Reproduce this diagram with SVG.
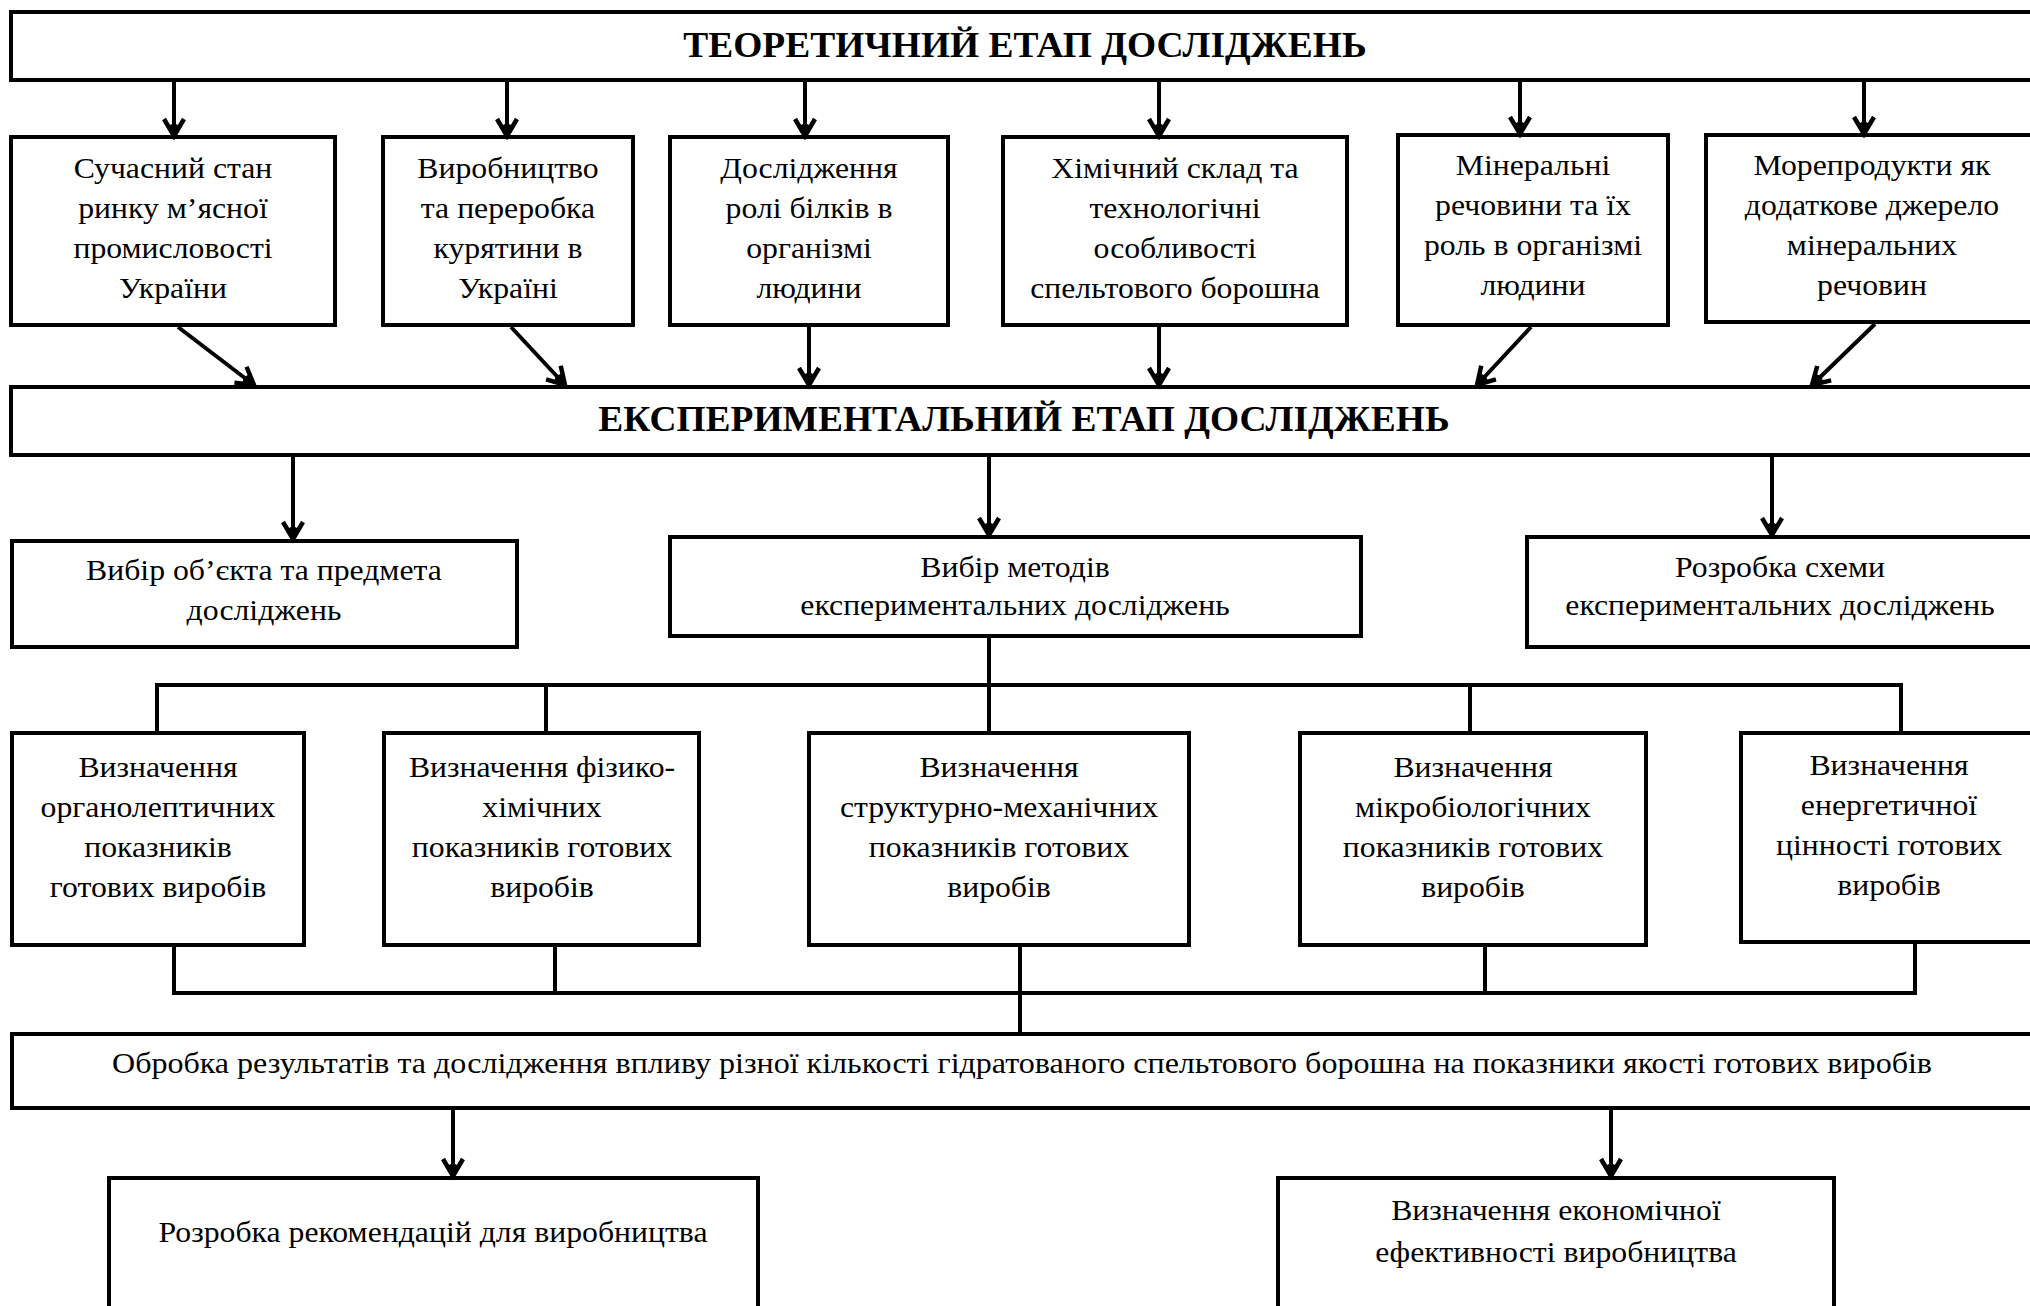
<svg xmlns="http://www.w3.org/2000/svg" width="2030" height="1306" viewBox="0 0 2030 1306">
<style>
.box{fill:#fff;stroke:#000;stroke-width:4}
.t{font-family:"Liberation Serif","Times New Roman",serif;font-size:29px;fill:#000;text-anchor:middle;transform-box:fill-box;transform-origin:center;transform:scaleX(1.095)}
.w{transform:scaleX(1.105)}
.h{font-family:"Liberation Serif","Times New Roman",serif;font-size:35px;font-weight:bold;fill:#000;text-anchor:middle;transform-box:fill-box;transform-origin:center;transform:scaleX(1.07)}
.c{fill:none;stroke:#000;stroke-width:4}
.a{fill:none;stroke:#000;stroke-width:4;marker-end:url(#ah)}
</style>
<defs>
<marker id="ah" markerUnits="userSpaceOnUse" markerWidth="24" markerHeight="26" refX="19" refY="12" orient="auto">
<path d="M2,2 L19,12 L2,22" fill="none" stroke="#000" stroke-width="4.5"/>
<path d="M6,12 L19,12 L9,6 z M6,12 L19,12 L9,18 z" fill="#000"/>
</marker>
</defs>
<rect width="2030" height="1306" fill="#fff"/>

<g id="theory">
<rect class="box" x="11" y="12" width="2040" height="68"/>
<text class="h" x="1025" y="57">ТЕОРЕТИЧНИЙ ЕТАП ДОСЛІДЖЕНЬ</text>
</g>

<g id="t1">
<rect class="box" x="11" y="137" width="324" height="188"/>
<text class="t" x="173" y="178">Сучасний стан</text>
<text class="t" x="173" y="218">ринку м’ясної</text>
<text class="t" x="173" y="258">промисловості</text>
<text class="t" x="173" y="298">України</text>
</g>
<g id="t2">
<rect class="box" x="383" y="137" width="250" height="188"/>
<text class="t" x="508" y="178">Виробництво</text>
<text class="t" x="508" y="218">та переробка</text>
<text class="t" x="508" y="258">курятини в</text>
<text class="t" x="508" y="298">Україні</text>
</g>
<g id="t3">
<rect class="box" x="670" y="137" width="278" height="188"/>
<text class="t" x="809" y="178">Дослідження</text>
<text class="t" x="809" y="218">ролі білків в</text>
<text class="t" x="809" y="258">організмі</text>
<text class="t" x="809" y="298">людини</text>
</g>
<g id="t4">
<rect class="box" x="1003" y="137" width="344" height="188"/>
<text class="t" x="1175" y="178">Хімічний склад та</text>
<text class="t" x="1175" y="218">технологічні</text>
<text class="t" x="1175" y="258">особливості</text>
<text class="t" x="1175" y="298">спельтового борошна</text>
</g>
<g id="t5">
<rect class="box" x="1398" y="135" width="270" height="190"/>
<text class="t" x="1533" y="175">Мінеральні</text>
<text class="t" x="1533" y="215">речовини та їх</text>
<text class="t" x="1533" y="255">роль в організмі</text>
<text class="t" x="1533" y="295">людини</text>
</g>
<g id="t6">
<rect class="box" x="1706" y="135" width="340" height="187"/>
<text class="t" x="1872" y="175">Морепродукти як</text>
<text class="t" x="1872" y="215">додаткове джерело</text>
<text class="t" x="1872" y="255">мінеральних</text>
<text class="t" x="1872" y="295">речовин</text>
</g>

<g id="experiment">
<rect class="box" x="11" y="387" width="2040" height="68"/>
<text class="h" x="1024" y="431">ЕКСПЕРИМЕНТАЛЬНИЙ ЕТАП ДОСЛІДЖЕНЬ</text>
</g>

<g id="e1">
<rect class="box" x="12" y="541" width="505" height="106"/>
<text class="t" x="264" y="580">Вибір об’єкта та предмета</text>
<text class="t" x="264" y="620">досліджень</text>
</g>
<g id="e2">
<rect class="box" x="670" y="537" width="691" height="99"/>
<text class="t" x="1015" y="577">Вибір методів</text>
<text class="t" x="1015" y="615">експериментальних досліджень</text>
</g>
<g id="e3">
<rect class="box" x="1527" y="537" width="520" height="110"/>
<text class="t" x="1780" y="577">Розробка схеми</text>
<text class="t" x="1780" y="615">експериментальних досліджень</text>
</g>

<g id="m1">
<rect class="box" x="12" y="733" width="292" height="212"/>
<text class="t" x="158" y="777">Визначення</text>
<text class="t" x="158" y="817">органолептичних</text>
<text class="t" x="158" y="857">показників</text>
<text class="t" x="158" y="897">готових виробів</text>
</g>
<g id="m2">
<rect class="box" x="384" y="733" width="315" height="212"/>
<text class="t" x="542" y="777">Визначення фізико-</text>
<text class="t" x="542" y="817">хімічних</text>
<text class="t" x="542" y="857">показників готових</text>
<text class="t" x="542" y="897">виробів</text>
</g>
<g id="m3">
<rect class="box" x="809" y="733" width="380" height="212"/>
<text class="t" x="999" y="777">Визначення</text>
<text class="t" x="999" y="817">структурно-механічних</text>
<text class="t" x="999" y="857">показників готових</text>
<text class="t" x="999" y="897">виробів</text>
</g>
<g id="m4">
<rect class="box" x="1300" y="733" width="346" height="212"/>
<text class="t" x="1473" y="777">Визначення</text>
<text class="t" x="1473" y="817">мікробіологічних</text>
<text class="t" x="1473" y="857">показників готових</text>
<text class="t" x="1473" y="897">виробів</text>
</g>
<g id="m5">
<rect class="box" x="1741" y="733" width="310" height="209"/>
<text class="t" x="1889" y="775">Визначення</text>
<text class="t" x="1889" y="815">енергетичної</text>
<text class="t" x="1889" y="855">цінності готових</text>
<text class="t" x="1889" y="895">виробів</text>
</g>

<g id="processing">
<rect class="box" x="12" y="1034" width="2040" height="74"/>
<text class="t w" x="1022" y="1073">Обробка результатів та дослідження впливу різної кількості гідратованого спельтового борошна на показники якості готових виробів</text>
</g>

<g id="r1">
<rect class="box" x="109" y="1178" width="649" height="140"/>
<text class="t" x="433" y="1242">Розробка рекомендацій для виробництва</text>
</g>
<g id="r2">
<rect class="box" x="1278" y="1178" width="556" height="140"/>
<text class="t" x="1556" y="1220">Визначення економічної</text>
<text class="t" x="1556" y="1262">ефективності виробництва</text>
</g>

<g id="connectors">
<line class="a" x1="174" y1="80" x2="174" y2="136"/>
<line class="a" x1="507" y1="80" x2="507" y2="136"/>
<line class="a" x1="805" y1="80" x2="805" y2="136"/>
<line class="a" x1="1159" y1="80" x2="1159" y2="136"/>
<line class="a" x1="1520" y1="80" x2="1520" y2="134"/>
<line class="a" x1="1864" y1="80" x2="1864" y2="134"/>

<line class="a" x1="178" y1="327" x2="254" y2="385"/>
<line class="a" x1="511" y1="327" x2="565" y2="385"/>
<line class="a" x1="809" y1="325" x2="809" y2="385"/>
<line class="a" x1="1159" y1="325" x2="1159" y2="385"/>
<line class="a" x1="1531" y1="327" x2="1477" y2="385"/>
<line class="a" x1="1875" y1="324" x2="1812" y2="385"/>

<line class="a" x1="293" y1="455" x2="293" y2="539"/>
<line class="a" x1="989" y1="455" x2="989" y2="535"/>
<line class="a" x1="1772" y1="455" x2="1772" y2="535"/>

<line class="c" x1="989" y1="636" x2="989" y2="733"/>
<polyline class="c" points="157,733 157,685 1901,685 1901,733"/>
<line class="c" x1="546" y1="685" x2="546" y2="733"/>
<line class="c" x1="1470" y1="685" x2="1470" y2="733"/>

<polyline class="c" points="174,945 174,993 1915,993 1915,942"/>
<line class="c" x1="555" y1="945" x2="555" y2="993"/>
<line class="c" x1="1020" y1="945" x2="1020" y2="1034"/>
<line class="c" x1="1485" y1="945" x2="1485" y2="993"/>

<line class="a" x1="453" y1="1108" x2="453" y2="1176"/>
<line class="a" x1="1611" y1="1108" x2="1611" y2="1176"/>
</g>
</svg>
